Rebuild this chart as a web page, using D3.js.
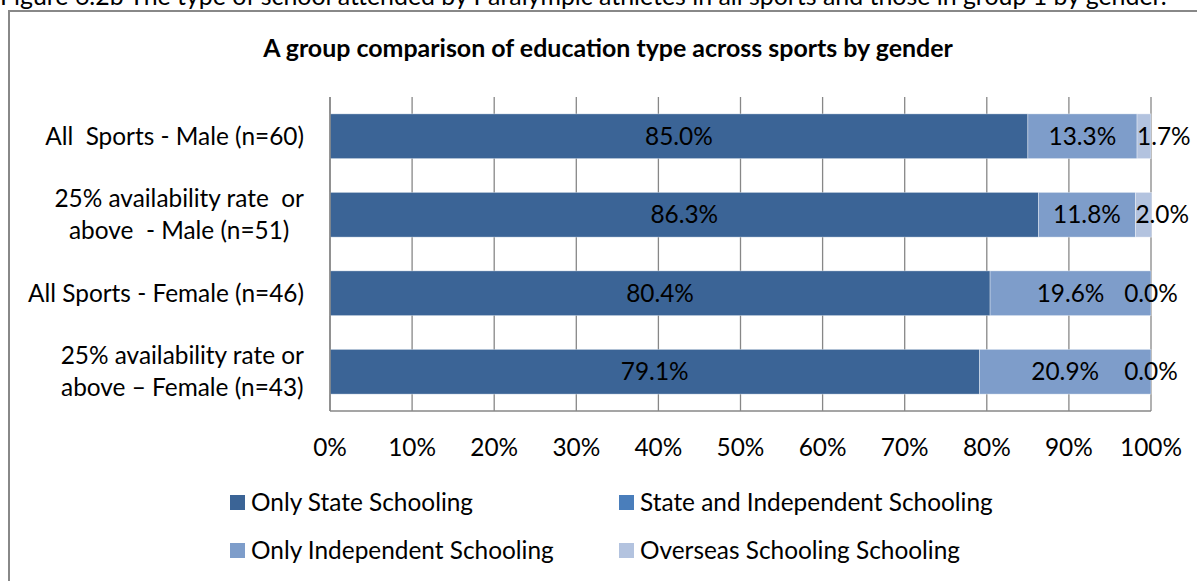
<!DOCTYPE html>
<html>
<head>
<meta charset="utf-8">
<script src="https://cdn.jsdelivr.net/npm/d3@7"></script>
<style>
  html, body { margin: 0; padding: 0; background: #fff; }
  svg { display: block; }
  svg text { white-space: pre; }
</style>
</head>
<body>
<svg id="chart" width="1197" height="581"></svg>
<script>
// ---------- DATA ----------
const captionText = "Figure 6.2b The type of school attended by Paralympic athletes in all sports and those in group 1 by gender.";
const titleText = "A group comparison of education type across sports by gender";
const categories = [
  ["All  Sports - Male (n=60)"],
  ["25% availability rate  or", "above  - Male (n=51)"],
  ["All Sports - Female (n=46)"],
  ["25% availability rate or", "above \u2013 Female (n=43)"]
];
const seriesNames = ["Only State Schooling", "State and Independent Schooling", "Only Independent Schooling", "Overseas Schooling Schooling"];
const onlyState = [85.0, 86.3, 80.4, 79.1];
const stateAndIndependent = [0, 0, 0, 0];
const onlyIndependent = [13.3, 11.8, 19.6, 20.9];
const overseas = [1.7, 2.0, 0.0, 0.0];
const showLabels = [true, false, true, true];
const xTicks = [0, 10, 20, 30, 40, 50, 60, 70, 80, 90, 100];
const colors = ["#3b6496", "#4a7ebb", "#7e9dca", "#b3c3df"];

// ---------- SETUP ----------
const svg = d3.select("#chart");
const FONT = "Lato, 'Open Sans', sans-serif";

function fitSize(str, target, weight) {
  const t = svg.append("text").attr("font-family", FONT).attr("font-size", 100)
    .attr("font-weight", weight || "normal").attr("xml:space", "preserve").text(str);
  const w = t.node().getComputedTextLength();
  t.remove();
  return 100 * target / w;
}
const baseSize = fitSize("All  Sports - Male (n=60)", 259);
const titleSize = fitSize(titleText, 690, "bold");
const captionSize = fitSize(captionText, 1167);

svg.append("rect").attr("width", 1197).attr("height", 581).attr("fill", "#fff");

// caption (cut at top, as in the reference)
svg.append("text").attr("x", 0).attr("y", 5)
  .attr("font-family", FONT).attr("font-size", captionSize).attr("fill", "#000")
  .text(captionText);

// chart border
svg.append("rect").attr("x", 9).attr("y", 11).attr("width", 1300).attr("height", 700)
  .attr("fill", "none").attr("stroke", "#888").attr("stroke-width", 2);

// title
svg.append("text").attr("x", 608).attr("y", 57).attr("text-anchor", "middle")
  .attr("font-family", FONT).attr("font-weight", "bold").attr("font-size", titleSize)
  .attr("fill", "#000").text(titleText);

// ---------- SCALES ----------
const plot = { left: 330, right: 1151, top: 97, bottom: 411 };
const x = d3.scaleLinear().domain([0, 100]).range([plot.left, plot.right]);
const y = d3.scaleBand().domain(d3.range(categories.length))
  .range([plot.top, plot.bottom]).paddingInner(0.43).paddingOuter(0.215);

const rows = categories.map((c, i) => ({
  i: i,
  s0: onlyState[i], s1: stateAndIndependent[i], s2: onlyIndependent[i], s3: overseas[i]
}));
const keys = ["s0", "s1", "s2", "s3"];
const stacked = d3.stack().keys(keys)(rows);

// gridlines
svg.append("g").selectAll("line").data(xTicks).join("line")
  .attr("x1", d => x(d)).attr("x2", d => x(d))
  .attr("y1", plot.top).attr("y2", plot.bottom)
  .attr("stroke", "#878787").attr("stroke-width", 1.3);

// bars
const layers = svg.append("g").selectAll("g").data(stacked).join("g")
  .attr("fill", (d, i) => colors[i]);
layers.selectAll("rect").data(d => d).join("rect")
  .attr("x", d => x(d[0]))
  .attr("y", d => y(d.data.i))
  .attr("width", d => Math.max(0, x(d[1]) - x(d[0])))
  .attr("height", y.bandwidth())
  .attr("stroke", "rgba(255,255,255,0.45)").attr("stroke-width", 0.8);

// axes lines
svg.append("line").attr("x1", plot.left).attr("x2", plot.right)
  .attr("y1", plot.bottom).attr("y2", plot.bottom)
  .attr("stroke", "#878787").attr("stroke-width", 1.5);
svg.append("line").attr("x1", plot.left).attr("x2", plot.left)
  .attr("y1", plot.top).attr("y2", plot.bottom)
  .attr("stroke", "#878787").attr("stroke-width", 1.5);

// x tick labels
svg.append("g").selectAll("text").data(xTicks).join("text")
  .attr("x", d => x(d)).attr("y", 447).attr("dy", "0.35em")
  .attr("text-anchor", "middle")
  .attr("font-family", FONT).attr("font-size", baseSize).attr("fill", "#000")
  .text(d => d + "%");

// category labels (block right-aligned, lines centered)
const lineGap = 32;
categories.forEach((lines, i) => {
  const g = svg.append("g");
  const texts = lines.map(l => g.append("text")
    .attr("xml:space", "preserve")
    .attr("font-family", FONT).attr("font-size", baseSize).attr("fill", "#000")
    .attr("text-anchor", "middle").attr("dy", "0.35em").text(l));
  const maxW = d3.max(texts, t => t.node().getComputedTextLength());
  const cx = 304 - maxW / 2;
  const cy = y(i) + y.bandwidth() / 2;
  texts.forEach((t, k) => {
    t.attr("x", cx).attr("y", cy + (k - (lines.length - 1) / 2) * lineGap);
  });
});

// data labels
stacked.forEach((layer, si) => {
  if (!showLabels[si]) return;
  layer.forEach(d => {
    const v = d[1] - d[0];
    const w = x(d[1]) - x(d[0]);
    const small = v > 0 && w < 20;
    svg.append("text")
      .attr("x", small ? x(d[0]) : (x(d[0]) + x(d[1])) / 2)
      .attr("y", y(d.data.i) + y.bandwidth() / 2).attr("dy", "0.35em")
      .attr("text-anchor", small ? "start" : "middle")
      .attr("font-family", FONT).attr("font-size", baseSize).attr("fill", "#000")
      .text(v.toFixed(1) + "%");
  });
});

// legend
const legendPos = [[230, 495], [619, 495], [230, 543], [619, 543]];
seriesNames.forEach((name, i) => {
  const [lx, ly] = legendPos[i];
  svg.append("rect").attr("x", lx).attr("y", ly).attr("width", 15).attr("height", 15)
    .attr("fill", colors[i]);
  svg.append("text").attr("x", lx + 21).attr("y", ly + 7.5).attr("dy", "0.35em")
    .attr("font-family", FONT).attr("font-size", baseSize).attr("fill", "#000")
    .text(name);
});
</script>
</body>
</html>
